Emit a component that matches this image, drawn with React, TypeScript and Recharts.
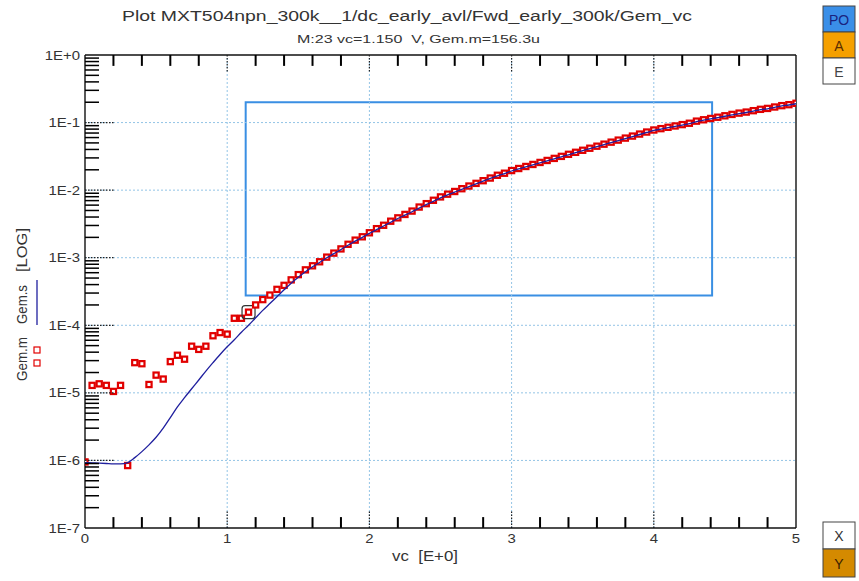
import React from 'react';
import {
  ComposedChart,
  Line,
  Scatter,
  XAxis,
  YAxis,
  ReferenceLine,
  ReferenceArea,
} from 'recharts';

// vc sweep points (V)
const vcPoints = [
  0, 0.05, 0.1, 0.15, 0.2, 0.25, 0.3, 0.35, 0.4, 0.45, 0.5, 0.55, 0.6, 0.65, 0.7, 0.75, 0.8, 0.85, 0.9, 0.95,
  1, 1.05, 1.1, 1.15, 1.2, 1.25, 1.3, 1.35, 1.4, 1.45, 1.5, 1.55, 1.6, 1.65, 1.7, 1.75, 1.8, 1.85, 1.9, 1.95,
  2, 2.05, 2.1, 2.15, 2.2, 2.25, 2.3, 2.35, 2.4, 2.45, 2.5, 2.55, 2.6, 2.65, 2.7, 2.75, 2.8, 2.85, 2.9, 2.95,
  3, 3.05, 3.1, 3.15, 3.2, 3.25, 3.3, 3.35, 3.4, 3.45, 3.5, 3.55, 3.6, 3.65, 3.7, 3.75, 3.8, 3.85, 3.9, 3.95,
  4, 4.05, 4.1, 4.15, 4.2, 4.25, 4.3, 4.35, 4.4, 4.45, 4.5, 4.55, 4.6, 4.65, 4.7, 4.75, 4.8, 4.85, 4.9, 4.95, 5,
];

// Gem.m (measured)
const gemMeasured = [
  9.5e-7, 1.29e-5, 1.36e-5, 1.29e-5, 1.05e-5, 1.29e-5, 8.4e-7, 2.8e-5, 2.7e-5, 1.33e-5,
  1.83e-5, 1.6e-5, 2.9e-5, 3.6e-5, 3.15e-5, 4.9e-5, 4.4e-5, 4.9e-5, 7.0e-5, 7.8e-5,
  7.4e-5, 1.27e-4, 1.27e-4, 1.563e-4, 2.0e-4, 2.4e-4, 2.8e-4, 3.4e-4, 3.9e-4, 4.7e-4,
  5.62e-4, 6.61e-4, 7.59e-4, 8.71e-4, 1.02e-3, 1.17e-3, 1.35e-3, 1.58e-3, 1.82e-3, 2.04e-3,
  2.34e-3, 2.69e-3, 3.02e-3, 3.47e-3, 3.89e-3, 4.37e-3, 4.9e-3, 5.62e-3, 6.31e-3, 7.08e-3,
  7.94e-3, 8.71e-3, 9.55e-3, 1.05e-2, 1.15e-2, 1.26e-2, 1.38e-2, 1.51e-2, 1.66e-2, 1.78e-2,
  1.95e-2, 2.09e-2, 2.24e-2, 2.4e-2, 2.57e-2, 2.75e-2, 2.95e-2, 3.16e-2, 3.39e-2, 3.63e-2,
  3.89e-2, 4.17e-2, 4.47e-2, 4.79e-2, 5.13e-2, 5.5e-2, 5.89e-2, 6.31e-2, 6.76e-2, 7.24e-2,
  7.76e-2, 8.13e-2, 8.51e-2, 8.91e-2, 9.33e-2, 9.77e-2, 0.105, 0.11, 0.115, 0.12,
  0.126, 0.132, 0.138, 0.143, 0.15, 0.157, 0.162, 0.17, 0.178, 0.184, 0.193,
];

// Gem.s (simulated)
const gemSimulated = [
  9.3e-7, 9.2e-7, 9.1e-7, 9.0e-7, 8.9e-7, 8.9e-7, 9.3e-7, 1.1e-6, 1.35e-6, 1.7e-6,
  2.2e-6, 3.0e-6, 4.3e-6, 6.2e-6, 8.5e-6, 1.15e-5, 1.55e-5, 2.1e-5, 2.8e-5, 3.7e-5,
  4.8e-5, 6.1e-5, 7.9e-5, 1.0e-4, 1.29e-4, 1.66e-4, 2.1e-4, 2.65e-4, 3.35e-4, 4.2e-4,
  5.15e-4, 6.2e-4, 7.35e-4, 8.5e-4, 1.0e-3, 1.15e-3, 1.32e-3, 1.53e-3, 1.76e-3, 2.0e-3,
  2.29e-3, 2.6e-3, 2.95e-3, 3.35e-3, 3.8e-3, 4.27e-3, 4.79e-3, 5.43e-3, 6.1e-3, 6.84e-3,
  7.67e-3, 8.5e-3, 9.33e-3, 1.03e-2, 1.13e-2, 1.24e-2, 1.36e-2, 1.49e-2, 1.63e-2, 1.76e-2,
  1.92e-2, 2.06e-2, 2.21e-2, 2.37e-2, 2.54e-2, 2.72e-2, 2.91e-2, 3.12e-2, 3.34e-2, 3.58e-2,
  3.84e-2, 4.11e-2, 4.41e-2, 4.72e-2, 5.06e-2, 5.42e-2, 5.81e-2, 6.22e-2, 6.66e-2, 7.13e-2,
  7.64e-2, 8.01e-2, 8.39e-2, 8.78e-2, 9.19e-2, 9.62e-2, 0.1035, 0.1085, 0.1135, 0.1185,
  0.124, 0.13, 0.136, 0.141, 0.148, 0.155, 0.16, 0.168, 0.176, 0.182, 0.19,
];

const xMajorTicks = [0, 1, 2, 3, 4, 5];
const xTickLabels = ['0', '1', '2', '3', '4', '5'];
const xMinorTicks = [
  0.2, 0.4, 0.6, 0.8, 1.2, 1.4, 1.6, 1.8, 2.2, 2.4, 2.6, 2.8, 3.2, 3.4, 3.6, 3.8, 4.2, 4.4, 4.6, 4.8,
];
const xAllTicks = [
  0, 0.2, 0.4, 0.6, 0.8, 1, 1.2, 1.4, 1.6, 1.8, 2, 2.2, 2.4, 2.6, 2.8,
  3, 3.2, 3.4, 3.6, 3.8, 4, 4.2, 4.4, 4.6, 4.8, 5,
];
const yMajorTicks = [1e-7, 1e-6, 1e-5, 1e-4, 1e-3, 1e-2, 1e-1, 1];
const yTickLabels = ['1E-7', '1E-6', '1E-5', '1E-4', '1E-3', '1E-2', '1E-1', '1E+0'];
const yMinorTicks = [
  2e-7, 3e-7, 4e-7, 5e-7, 6e-7, 7e-7, 8e-7, 9e-7,
  2e-6, 3e-6, 4e-6, 5e-6, 6e-6, 7e-6, 8e-6, 9e-6,
  2e-5, 3e-5, 4e-5, 5e-5, 6e-5, 7e-5, 8e-5, 9e-5,
  2e-4, 3e-4, 4e-4, 5e-4, 6e-4, 7e-4, 8e-4, 9e-4,
  2e-3, 3e-3, 4e-3, 5e-3, 6e-3, 7e-3, 8e-3, 9e-3,
  2e-2, 3e-2, 4e-2, 5e-2, 6e-2, 7e-2, 8e-2, 9e-2,
  0.2, 0.3, 0.4, 0.5, 0.6, 0.7, 0.8, 0.9,
];
// tick ends in data units: ~11px from the top (1E+0) and bottom (1E-7) edges, majors ~18px
const topMinorTickEnd = 0.69;
const topMajorTickEnd = 0.54;
const bottomMinorTickEnd = 1.45e-7;
const bottomMajorTickEnd = 1.85e-7;

// optimization window + marker
const windowVc = [1.13, 4.41];
const windowGem = [2.75e-4, 0.2];
const markerVc = 1.15;

const data = vcPoints.map((v, i) => ({ vc: v, meas: gemMeasured[i], sim: gemSimulated[i] }));

const FONT = '"Liberation Sans", Arial, sans-serif';

const BottomTick = (props: any) => {
  const { x, y, payload } = props;
  const i = xMajorTicks.indexOf(payload.value);
  if (i < 0) return <g />;
  return (
    <text
      transform={`translate(${x},${y + 15}) scale(1.15,1)`}
      textAnchor="middle"
      fontSize={13}
      fill="#333"
      fontFamily={FONT}
    >
      {xTickLabels[i]}
    </text>
  );
};

const LeftTick = (props: any) => {
  const { x, y, payload } = props;
  const i = yMajorTicks.indexOf(payload.value);
  if (i < 0) return <line x1={x} x2={x + 14} y1={y} y2={y} stroke="#000" strokeWidth={1.5} />;
  return (
    <g>
      {i > 0 && i < 7 && (
        <line x1={x} x2={x + 30} y1={y} y2={y} stroke="#222" strokeWidth={1.2} strokeDasharray="1.5 1.5" />
      )}
      <text
        transform={`translate(${x - 5},${y + 4.5}) scale(1.15,1)`}
        textAnchor="end"
        fontSize={13}
        fill="#333"
        fontFamily={FONT}
      >
        {yTickLabels[i]}
      </text>
    </g>
  );
};

const SquareMarker = (props: any) => {
  const { cx, cy, payload } = props;
  if (cx == null || cy == null) return <g />;
  return (
    <g>
      {payload && payload.vc === markerVc && (
        <rect x={cx - 6.5} y={cy - 6.5} width={13} height={13} rx={3} fill="none" stroke="#333" strokeWidth={1.2} />
      )}
      <rect x={cx - 2.6} y={cy - 2.6} width={5.2} height={5.2} fill="#fff" stroke="#e10000" strokeWidth={2.2} />
    </g>
  );
};

const gridStyle = { stroke: '#93c4e6', strokeWidth: 1, strokeDasharray: '2 2' };

export default function App() {
  return (
    <div style={{ position: 'absolute', left: 0, top: 0, width: 859, height: 581, background: '#fff' }}>
      <ComposedChart
        width={859}
        height={581}
        data={data}
        margin={{ top: 55, right: 63, bottom: 23, left: 45 }}
      >
        <XAxis
          dataKey="vc"
          type="number"
          domain={[0, 5]}
          allowDataOverflow
          ticks={xAllTicks}
          interval={0}
          tickLine={false}
          tickSize={0}
          tickMargin={0}
          height={30}
          axisLine={{ stroke: '#111', strokeWidth: 1.4 }}
          tick={BottomTick}
        />
        <YAxis
          type="number"
          scale="log"
          domain={[1e-7, 1]}
          allowDataOverflow
          ticks={[...yMajorTicks, ...yMinorTicks]}
          interval={0}
          tickLine={false}
          tickSize={0}
          tickMargin={0}
          width={40}
          axisLine={{ stroke: '#111', strokeWidth: 1.4 }}
          tick={LeftTick}
        />
        {[1, 2, 3, 4].map((v) => (
          <ReferenceLine key={`gx${v}`} x={v} {...gridStyle} />
        ))}
        {[1e-1, 1e-2, 1e-3, 1e-4, 1e-5, 1e-6].map((v) => (
          <ReferenceLine key={`gy${v}`} y={v} {...gridStyle} />
        ))}
        {/* frame: top and right edges */}
        <ReferenceLine y={1} stroke="#111" strokeWidth={1.4} />
        <ReferenceLine x={5} stroke="#111" strokeWidth={1.4} />
        {/* minor ticks on top and bottom edges */}
        {xMinorTicks.map((v) => (
          <ReferenceLine
            key={`tt${v}`}
            segment={[{ x: v, y: 1 }, { x: v, y: topMinorTickEnd }]}
            stroke="#000"
            strokeWidth={2}
          />
        ))}
        {xMinorTicks.map((v) => (
          <ReferenceLine
            key={`bt${v}`}
            segment={[{ x: v, y: 1e-7 }, { x: v, y: bottomMinorTickEnd }]}
            stroke="#000"
            strokeWidth={2}
          />
        ))}
        {[1, 2, 3, 4].map((v) => (
          <ReferenceLine
            key={`tm${v}`}
            segment={[{ x: v, y: 1 }, { x: v, y: topMajorTickEnd }]}
            stroke="#222"
            strokeWidth={1.2}
            strokeDasharray="1.5 1.5"
          />
        ))}
        {[1, 2, 3, 4].map((v) => (
          <ReferenceLine
            key={`bm${v}`}
            segment={[{ x: v, y: 1e-7 }, { x: v, y: bottomMajorTickEnd }]}
            stroke="#222"
            strokeWidth={1.2}
            strokeDasharray="1.5 1.5"
          />
        ))}
        <ReferenceArea
          x1={windowVc[0]}
          x2={windowVc[1]}
          y1={windowGem[0]}
          y2={windowGem[1]}
          fill="none"
          fillOpacity={0}
          stroke="#3a8fe3"
          strokeWidth={2}
          ifOverflow="visible"
        />
        <Scatter dataKey="meas" shape={SquareMarker} isAnimationActive={false} />
        <Line
          dataKey="sim"
          type="monotone"
          stroke="#1f1f9e"
          strokeWidth={1.3}
          dot={false}
          activeDot={false}
          isAnimationActive={false}
          {...({ zIndex: 700 } as any)}
        />
      </ComposedChart>

      <svg
        width={859}
        height={581}
        style={{ position: 'absolute', left: 0, top: 0, pointerEvents: 'none' }}
        fontFamily={FONT}
      >
        <text x={122} y={21} fontSize={15.5} fill="#333" textLength={570} lengthAdjust="spacingAndGlyphs">
          Plot MXT504npn_300k__1/dc_early_avl/Fwd_early_300k/Gem_vc
        </text>
        <text x={297} y={43} fontSize={11} fill="#333" textLength={243} lengthAdjust="spacingAndGlyphs">
          {'M:23 vc=1.150\u00a0\u00a0V, Gem.m=156.3u'}
        </text>
        <text x={392} y={561} fontSize={14} fill="#333" textLength={66} lengthAdjust="spacingAndGlyphs">
          {'vc\u00a0\u00a0[E+0]'}
        </text>

        {/* y axis title with legend glyphs */}
        <text transform="translate(27,381) rotate(-90)" fontSize={15} fill="#333" textLength={44} lengthAdjust="spacingAndGlyphs">
          Gem.m
        </text>
        <text transform="translate(27,324) rotate(-90)" fontSize={15} fill="#333" textLength={39} lengthAdjust="spacingAndGlyphs">
          Gem.s
        </text>
        <text transform="translate(27,272) rotate(-90)" fontSize={15} fill="#333" textLength={44} lengthAdjust="spacingAndGlyphs">
          [LOG]
        </text>
        <line x1={37} x2={37} y1={280} y2={325} stroke="#1f1f9e" strokeWidth={1.3} />
        <rect x={34} y={347} width={6} height={6} fill="#fff" stroke="#e10000" strokeWidth={1.2} />
        <rect x={34} y={360} width={6} height={6} fill="#fff" stroke="#e10000" strokeWidth={1.2} />

        {/* right-side buttons */}
        <rect x={823} y={6} width={32} height={26} fill="#3a8fe8" stroke="#444" strokeWidth={1} />
        <text x={839} y={25} fontSize={14} fill="#1a237e" textAnchor="middle">PO</text>
        <rect x={823} y={32} width={32} height={26} fill="#f5a000" stroke="#444" strokeWidth={1} />
        <text x={839} y={51} fontSize={14} fill="#5a2d00" textAnchor="middle">A</text>
        <rect x={823} y={58} width={32} height={26} fill="#fff" stroke="#444" strokeWidth={1} />
        <text x={839} y={77} fontSize={14} fill="#444" textAnchor="middle">E</text>

        <rect x={823} y={522} width={32} height={27} fill="#fff" stroke="#444" strokeWidth={1} />
        <text x={839} y={541} fontSize={14} fill="#333" textAnchor="middle">X</text>
        <rect x={823} y={549} width={32} height={28} fill="#d48a00" stroke="#444" strokeWidth={1} />
        <text x={839} y={569} fontSize={14} fill="#3a2000" textAnchor="middle">Y</text>
      </svg>
    </div>
  );
}
